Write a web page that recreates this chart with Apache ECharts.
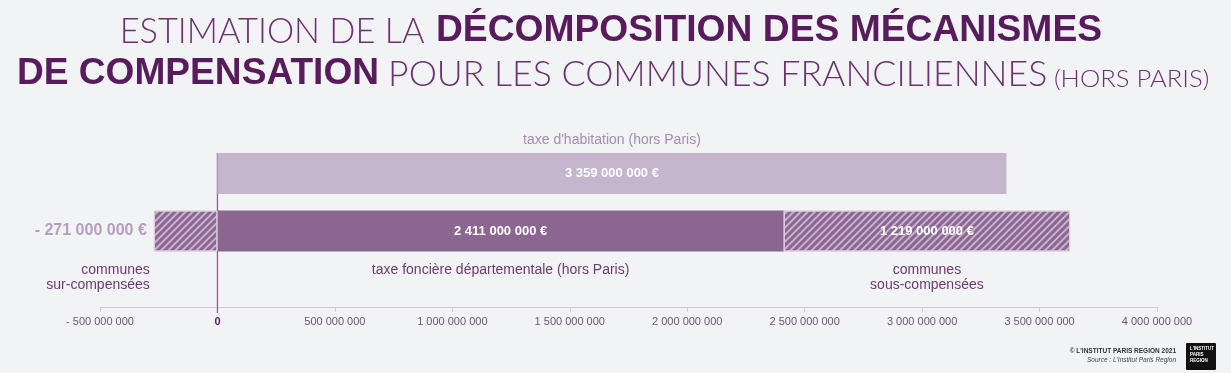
<!DOCTYPE html>
<html><head><meta charset="utf-8">
<script src="https://cdn.jsdelivr.net/npm/echarts@6.0.0/dist/echarts.min.js"></script>
<style>html,body{margin:0;padding:0;background:#f2f3f5;}#c{width:1231px;height:373px;}</style>
</head><body><div id="c"></div>
<script>
// ---- data ----
const categories = ["taxe d'habitation (hors Paris)", "taxe foncière départementale (hors Paris)"];
const habitation = [3359000000, null];
const fonciere = [null, 2411000000];
const sousCompensees = [null, 1219000000];
const surCompensees = [null, -271000000];
const axisMin = -500000000;
const axisMax = 4000000000;
const axisStep = 500000000;
const zeroLine = [[0, 0], [0, 1]];
const groupSur = 'communes\nsur-compensées';
const groupSous = 'communes\nsous-compensées';
const titleLine1 = [['ESTIMATION DE LA', 'thin'], ['DÉCOMPOSITION DES MÉCANISMES', 'bold']];
const titleLine2 = [['DE COMPENSATION', 'bold'], ['POUR LES COMMUNES FRANCILIENNES', 'thin'], ['(HORS PARIS)', 'small']];
const footerLines = ["© L'INSTITUT PARIS REGION 2021", "Source : L'Institut Paris Region"];
const logoLines = ["L'INSTITUT", "PARIS", "REGION"];

// ---- helpers ----
function fmt(v) {
  const s = Math.abs(v).toString().replace(/\B(?=(\d{3})+(?!\d))/g, ' ');
  return (v < 0 ? '- ' : '') + s;
}
const toData = a => a.map(v => v == null ? '-' : v);
const FONT = "'Liberation Sans', Arial, sans-serif";
const NARROW = "'Liberation Sans Narrow', 'Liberation Sans', Arial, sans-serif";
const BAR_W = 41;
const DARK = '#8b6690';
const hatch = { symbol: 'rect', symbolSize: 1, dashArrayX: [1, 0], dashArrayY: [2, 3], rotation: -Math.PI / 4, color: 'rgba(214,196,220,0.8)' };
const valueLabel = { show: true, position: 'inside', color: '#fff', fontWeight: 'bold', fontSize: 13, fontFamily: FONT,
  formatter: p => fmt(p.value) + ' €' };

const chart = echarts.init(document.getElementById('c'));
const option = {
  backgroundColor: '#f2f3f5',
  animation: false,
  grid: [
    { left: 100, right: 74, top: 144.75, height: 115 },
    { left: 100, right: 74, top: 153, bottom: 60 }
  ],
  xAxis: [
    { type: 'value', gridIndex: 0, min: axisMin, max: axisMax, interval: axisStep, offset: 47,
      splitLine: { show: false },
      axisLine: { show: true, onZero: false, lineStyle: { color: '#d5c9d9', width: 1 } },
      axisTick: { show: true, length: 5, lineStyle: { color: '#d5c9d9' } },
      axisLabel: { margin: 10, color: '#6f5676', fontSize: 11, fontFamily: FONT,
        formatter: v => v === 0 ? '{z|0}' : fmt(v),
        rich: { z: { fontWeight: 'bold', color: '#5a1e5e', fontSize: 11, fontFamily: FONT } } } },
    { type: 'value', gridIndex: 1, min: axisMin, max: axisMax, show: false }
  ],
  yAxis: [
    { type: 'category', gridIndex: 0, data: categories, inverse: true, show: false },
    { type: 'value', gridIndex: 1, min: 0, max: 1, show: false }
  ],
  series: [
    { type: 'line', xAxisIndex: 1, yAxisIndex: 1, data: zeroLine, symbol: 'none', silent: true, z: 1,
      lineStyle: { color: DARK, width: 1.3 } },
    { type: 'bar', name: categories[0], stack: 's', barWidth: BAR_W, data: toData(habitation),
      itemStyle: { color: '#c5b6cd' }, label: valueLabel },
    { type: 'bar', name: categories[1], stack: 's', barWidth: BAR_W, data: toData(fonciere),
      itemStyle: { color: DARK }, label: valueLabel },
    { type: 'bar', name: 'communes sous-compensées', stack: 's', barWidth: BAR_W, data: toData(sousCompensees),
      itemStyle: { color: DARK, decal: hatch, borderColor: '#dccfe0', borderWidth: 1 }, label: valueLabel },
    { type: 'bar', name: 'communes sur-compensées', stack: 's', barWidth: BAR_W, data: toData(surCompensees),
      itemStyle: { color: DARK, decal: hatch, borderColor: '#dccfe0', borderWidth: 1 },
      label: { show: true, position: 'left', distance: 7, color: '#b69fbd', fontSize: 16, fontWeight: 'bold', fontFamily: FONT,
        formatter: p => fmt(p.value) + ' €' } }
  ]
};
chart.setOption(option);

// ---- title (each segment fitted to its place) ----
const STY = {
  bold: { fontWeight: 'bold', fontSize: 36, fontFamily: FONT, color: '#581c5c' },
  thin: { fontWeight: 300, fontSize: 36, fontFamily: "Lato, 'Open Sans', sans-serif", color: '#6b3170' },
  small: { fontWeight: 300, fontSize: 24, fontFamily: "Lato, 'Open Sans', sans-serif", color: '#6b3170' }
};
const titleBoxes = [
  [[122.5, 425, 31], [438, 1101, 31]],
  [[19, 377, 74.5], [391, 1046, 74.5], [1055, 1208, 79.5]]
];
const mctx = document.createElement('canvas').getContext('2d');
const graphics = [];
[titleLine1, titleLine2].forEach((line, li) => {
  line.forEach((seg, si) => {
    const st = STY[seg[1]];
    const box = titleBoxes[li][si];
    mctx.font = st.fontWeight + ' ' + st.fontSize + 'px ' + st.fontFamily;
    const m = mctx.measureText(seg[0]);
    const ink = m.actualBoundingBoxLeft + m.actualBoundingBoxRight;
    const s = (box[1] - box[0]) / ink;
    graphics.push({ type: 'text', x: box[0] + s * m.actualBoundingBoxLeft, y: box[2], scaleX: s, silent: true,
      style: { text: seg[0], fill: st.color, fontSize: st.fontSize, fontWeight: st.fontWeight, fontFamily: st.fontFamily,
        align: 'left', verticalAlign: 'middle' } });
  });
});

// ---- annotations placed through the axes ----
const px = v => chart.convertToPixel({ xAxisIndex: 0 }, v);
const py = c => chart.convertToPixel({ yAxisIndex: 0 }, c);
const yTH = py(categories[0]);
const yTF = py(categories[1]);
const ann = { fontSize: 14, fontFamily: FONT, lineHeight: 15 };
graphics.push({ type: 'text', x: px(habitation[0] / 2), y: yTH - BAR_W / 2 - 13, silent: true,
  style: Object.assign({ text: categories[0], fill: '#a88cb0', align: 'center', verticalAlign: 'middle' }, ann) });
graphics.push({ type: 'text', x: px(fonciere[1] / 2), y: yTF + BAR_W / 2 + 11, silent: true,
  style: Object.assign({ text: categories[1], fill: '#6c3b6f', align: 'center', verticalAlign: 'top' }, ann) });
graphics.push({ type: 'text', x: px(fonciere[1] + sousCompensees[1] / 2), y: yTF + BAR_W / 2 + 11, silent: true,
  style: Object.assign({ text: groupSous, fill: '#6c3b6f', align: 'center', verticalAlign: 'top' }, ann) });
graphics.push({ type: 'text', x: px(surCompensees[1]) - 4, y: yTF + BAR_W / 2 + 11, silent: true,
  style: Object.assign({ text: groupSur, fill: '#6c3b6f', align: 'right', verticalAlign: 'top' }, ann) });

// ---- footer ----
graphics.push({ type: 'text', x: 1176, y: 351, silent: true,
  style: { text: footerLines[0], fill: '#333', fontSize: 6.5, fontWeight: 'bold', fontFamily: NARROW, align: 'right', verticalAlign: 'middle' } });
graphics.push({ type: 'text', x: 1176, y: 360, silent: true,
  style: { text: footerLines[1], fill: '#444', fontSize: 6.5, fontStyle: 'italic', fontFamily: NARROW, align: 'right', verticalAlign: 'middle' } });
graphics.push({ type: 'rect', shape: { x: 1186, y: 343, width: 30, height: 27, r: 1 }, style: { fill: '#111' }, silent: true });
logoLines.forEach((t, i) => graphics.push({ type: 'text', x: 1190, y: 349 + i * 6, silent: true,
  style: { text: t, fill: '#fff', fontSize: 4.5, fontWeight: 'bold', fontFamily: NARROW, align: 'left', verticalAlign: 'middle' } }));

chart.setOption({ graphic: graphics });
</script></body></html>
